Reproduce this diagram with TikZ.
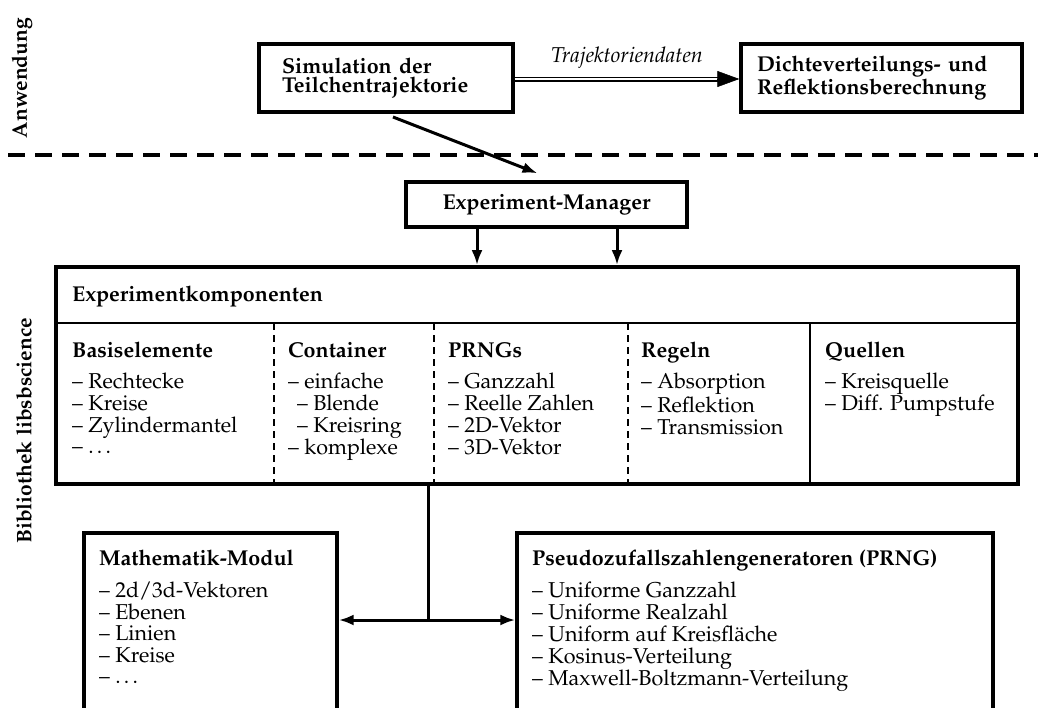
\documentclass[tikz,border=0pt]{standalone}
\usepackage[T1]{fontenc}
\usepackage{mathpazo}
\usetikzlibrary{arrows.meta,calc}
\begin{document}
\begin{tikzpicture}[x=1pt,y=-1pt,
  every node/.style={font=\fontsize{21.5}{21.5}\selectfont},
  box/.style={draw, line width=3.4pt, inner sep=0pt},
  txt/.style={anchor=base west, inner sep=0pt},
  side/.style={rotate=90, font=\fontsize{21}{21.5}\selectfont\bfseries, inner sep=0pt},
  arr/.style={line width=3pt, -{Latex[length=15pt,width=11pt]}},
  divider/.style={line width=1.8pt},
  ddiv/.style={line width=1.8pt, dash pattern=on 7pt off 5pt}
]
\useasboundingbox (0,0) rectangle (1038,707);
\clip (0,0) rectangle (1038,707);

% side labels and separator
\node[side] (anw) at (22,78) {Anwendung};
\node[side] (bib) at (24,431) {Bibliothek libsbscience};
\draw[line width=4pt, dash pattern=on 17pt off 10pt] (8,155) -- (1038,155);

% application layer
\node[box, minimum width=254pt, minimum height=68pt, text width=208pt, inner xsep=23pt, align=left,
      font=\fontsize{21.5}{19.5}\selectfont\bfseries] (sim) at (386,78) {Simulation der\\Teilchentrajektorie};
\node[box, minimum width=281pt, minimum height=68pt, text width=249pt, inner xsep=16pt, align=left,
      font=\fontsize{21.5}{19.5}\selectfont\bfseries] (dichte) at (881.5,78) {Dichteverteilungs- und\\Reflektionsberechnung};
\draw[double, double distance=2pt, line width=1.5pt] (sim.east |- 0,79) -- ($(dichte.west |- 0,79)+(-20,0)$);
\draw[line width=0.5pt, -{Triangle[length=22pt,width=16pt]}] ($(dichte.west |- 0,79)+(-21,0)$) -- (dichte.west |- 0,79);
\node[font=\fontsize{21.5}{21.5}\selectfont\itshape, anchor=base, inner sep=0pt] (traj) at (627,62) {Trajektoriendaten};

% experiment manager
\node[box, minimum width=281pt, minimum height=45pt, font=\fontsize{21.5}{21.5}\selectfont\bfseries] (em) at (546.5,204.5) {Experiment-Manager};
\coordinate (simout) at (393,117);
\draw[arr] (simout) -- ($(em.north)+(-9,-7)$);

% experiment components
\node[draw, line width=3.8pt, inner sep=0pt, minimum width=962pt, minimum height=217pt] (exp) at (537,375.5) {};
\draw[arr] (em.south -| 477,0) -- (exp.north -| 477,0);
\draw[arr] (em.south -| 617,0) -- (exp.north -| 617,0);
\draw[divider] (exp.west |- 0,323) -- (exp.east |- 0,323);
\draw[ddiv] (274,323) -- (274,484);
\draw[ddiv] (434,323) -- (434,484);
\draw[ddiv] (628,323) -- (628,484);
\draw[divider] (810,323) -- (810,484);

\node[txt, font=\fontsize{21.5}{21.5}\selectfont\bfseries] (hdr) at (72,301) {Experimentkomponenten};
\node[txt] (c1) at (72,357) {\begin{tabular}[t]{@{}l@{}}\textbf{Basiselemente}\\[9.5pt]
 -- Rechtecke\\ -- Kreise\\ -- Zylindermantel\\ -- \dots\end{tabular}};
\node[txt] (c2) at (288,357) {\begin{tabular}[t]{@{}l@{}}\textbf{Container}\\[9.5pt]
 -- einfache\\ \hspace{9pt}-- Blende\\ \hspace{9pt}-- Kreisring\\ -- komplexe\end{tabular}};
\node[txt] (c3) at (448,357) {\begin{tabular}[t]{@{}l@{}}\textbf{PRNGs}\\[9.5pt]
 -- Ganzzahl\\ -- Reelle Zahlen\\ -- 2D-Vektor\\ -- 3D-Vektor\end{tabular}};
\node[txt] (c4) at (641,357) {\begin{tabular}[t]{@{}l@{}}\textbf{Regeln}\\[9.5pt]
 -- Absorption\\[2pt] -- Reflektion\\ -- Transmission\end{tabular}};
\node[txt] (c5) at (825,357) {\begin{tabular}[t]{@{}l@{}}\textbf{Quellen}\\[9.5pt]
 -- Kreisquelle\\ -- Diff. Pumpstufe\end{tabular}};

% library modules
\node[box, minimum width=253pt, minimum height=190pt] (math) at (210.5,628) {};
\node[box, minimum width=476pt, minimum height=190pt] (prng) at (755,628) {};
\node[txt] (mt) at (99,565) {\begin{tabular}[t]{@{}l@{}}\textbf{Mathematik-Modul}\\[10pt]
 -- 2d/3d-Vektoren\\ -- Ebenen\\ -- Linien\\ -- Kreise\\ -- \dots\end{tabular}};
\node[txt] (pt) at (532,565) {\begin{tabular}[t]{@{}l@{}}\textbf{Pseudozufallszahlengeneratoren (PRNG)}\\[10pt]
 -- Uniforme Ganzzahl\\ -- Uniforme Realzahl\\ -- Uniform auf Kreisfl\"ache\\ -- Kosinus-Verteilung\\ -- Maxwell-Boltzmann-Verteilung\end{tabular}};

\coordinate (trunk) at (428,620);
\draw[line width=3pt] (exp.south -| trunk) -- (trunk);
\draw[arr] (trunk) -- (math.east |- trunk);
\draw[arr] (trunk) -- (prng.west |- trunk);
\end{tikzpicture}
\end{document}
